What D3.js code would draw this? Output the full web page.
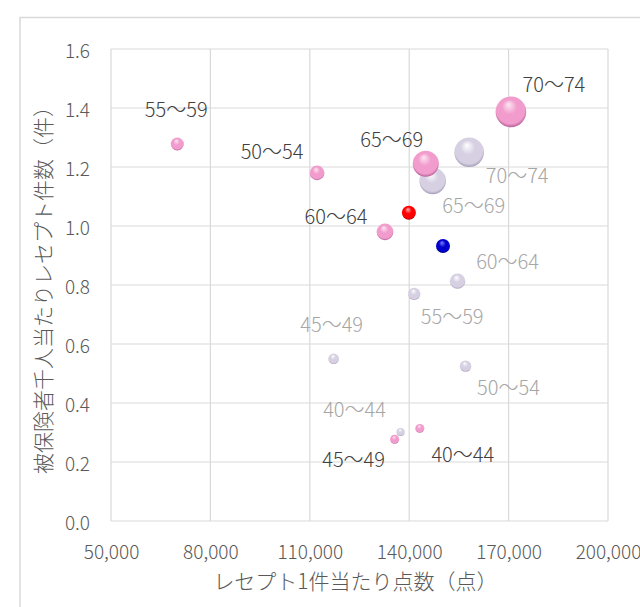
<!DOCTYPE html>
<html><head><meta charset="utf-8">
<script src="https://cdn.jsdelivr.net/npm/d3@7"></script>
<style>
html,body{margin:0;padding:0;background:#fff;}
svg{display:block;}
text{font-family:"Noto Sans CJK JP","Noto Sans",sans-serif;font-weight:300;}
</style></head>
<body>
<script>
// ---- data ----
const ageGroups = ["40～44","45～49","50～54","55～59","60～64","65～69","70～74"];
// pink series
const pinkPoints = [143200,135600,112200,70000,132700,145000,170700];
const pinkCounts = [0.314,0.277,1.180,1.278,0.980,1.211,1.387];
const pinkSizes  = [20,20,53,42,69,169,234];
// lavender series
const lavPoints = [137400,117200,157000,141500,154600,147100,158100];
const lavCounts = [0.302,0.550,0.525,0.770,0.813,1.153,1.250];
const lavSizes  = [16,28,32,38,59,177,219];
// overall markers
const redPoint = [139900], redCount = [1.045], redSize = [49];
const bluePoint = [150200], blueCount = [0.932], blueSize = [49];

const xTicks = [50000,80000,110000,140000,170000,200000];
const yTicks = [0,0.2,0.4,0.6,0.8,1.0,1.2,1.4,1.6];
const xTitle = "レセプト1件当たり点数（点）";
const yTitle = "被保険者千人当たりレセプト件数（件）";

// ---- layout (not data) ----
const W = 640, H = 607;
const plot = {left:111, right:608, top:49, bottom:521};
const pinkLabelOff = [[43,25],[-41,19],[-45,-22],[-1,-35],[-49,-16],[-34,-25],[43,-28]];
const lavLabelOff  = [[-46,-23],[-2,-35],[43,20],[38,22],[50,-21],[41,24],[48,22]];

const svg = d3.select("body").append("svg").attr("width",W).attr("height",H);

// chart border
svg.append("rect").attr("x",20).attr("y",17.5).attr("width",700).attr("height",700)
  .attr("fill","#fff").attr("stroke","#d9d9d9").attr("stroke-width",1.5);

const x = d3.scaleLinear().domain([50000,200000]).range([plot.left,plot.right]);
const y = d3.scaleLinear().domain([0,1.6]).range([plot.bottom,plot.top]);
const r = d3.scaleSqrt().domain([0,234]).range([0,15.3]);

// gradients
const defs = svg.append("defs");
function grad(id, hi, base, dark){
  const g = defs.append("radialGradient").attr("id",id)
    .attr("cx","50%").attr("cy","45%").attr("r","55%")
    .attr("fx","42%").attr("fy","25%");
  g.append("stop").attr("offset","0%").attr("stop-color",hi);
  g.append("stop").attr("offset","45%").attr("stop-color",base);
  g.append("stop").attr("offset","85%").attr("stop-color",base);
  g.append("stop").attr("offset","100%").attr("stop-color",dark);
}
grad("gPink","#fde6f3","#f19ccc","#b8609a");
grad("gLav","#ffffff","#d6d0e2","#a69cb9");
grad("gRed","#ffb0b0","#ff0000","#a00000");
grad("gBlue","#8080ff","#0000cc","#000070");

// gridlines
const grid = svg.append("g");
grid.selectAll("line.v").data(xTicks).join("line")
  .attr("x1",d=>x(d)).attr("x2",d=>x(d)).attr("y1",plot.top).attr("y2",plot.bottom)
  .attr("stroke","#d9d9d9").attr("stroke-width",1.2);
grid.selectAll("line.h").data(yTicks).join("line")
  .attr("x1",plot.left).attr("x2",plot.right).attr("y1",d=>y(d)).attr("y2",d=>y(d))
  .attr("stroke","#d9d9d9").attr("stroke-width",1.2);

// axes (tick labels only)
const xAxis = svg.append("g").attr("transform",`translate(0,${plot.bottom})`)
  .call(d3.axisBottom(x).tickValues(xTicks).tickFormat(d3.format(",")).tickSize(0).tickPadding(20));
const yAxis = svg.append("g").attr("transform",`translate(${plot.left},0)`)
  .call(d3.axisLeft(y).tickValues(yTicks).tickFormat(d3.format(".1f")).tickSize(0).tickPadding(21));
[xAxis,yAxis].forEach(a=>{
  a.select(".domain").remove();
  a.selectAll("text").attr("fill","#595959").style("font-size","19px")
   .style("font-family",'"Noto Sans CJK JP","Noto Sans",sans-serif').style("font-weight","300");
});
xAxis.selectAll("text").attr("dy",null).attr("dominant-baseline","central").attr("y",29);
yAxis.selectAll("text").attr("dy",null).attr("dominant-baseline","central");

// titles
svg.append("text").attr("x",(plot.left+plot.right)/2 - 4).attr("y",580)
  .attr("text-anchor","middle").attr("dominant-baseline","central")
  .attr("fill","#595959").style("font-size","21px").text(xTitle);
svg.append("text").attr("transform",`translate(42,${(plot.top+plot.bottom)/2}) rotate(-90)`)
  .attr("text-anchor","middle").attr("dominant-baseline","central")
  .attr("fill","#595959").style("font-size","21px").text(yTitle);

// bubbles
function series(points, counts, sizes, fill, cls){
  const data = points.map((p,i)=>({x:p,y:counts[i],s:sizes[i],i}));
  svg.append("g").selectAll("circle").data(data).join("circle")
    .attr("class",cls)
    .attr("cx",d=>x(d.x)).attr("cy",d=>y(d.y)).attr("r",d=>r(d.s))
    .attr("fill",`url(#${fill})`);
  return data;
}
const lavData = series(lavPoints, lavCounts, lavSizes, "gLav", "lav");
const pinkData = series(pinkPoints, pinkCounts, pinkSizes, "gPink", "pink");
series(redPoint, redCount, redSize, "gRed", "red");
series(bluePoint, blueCount, blueSize, "gBlue", "blue");

// labels
function labels(data, offs, color){
  svg.append("g").selectAll("text").data(data).join("text")
    .attr("x",d=>x(d.x)+offs[d.i][0]).attr("y",d=>y(d.y)+offs[d.i][1])
    .attr("text-anchor","middle").attr("dominant-baseline","central")
    .attr("fill",color).style("font-size","20px")
    .text(d=>ageGroups[d.i]);
}
labels(lavData, lavLabelOff, "#a6a6a6");
labels(pinkData, pinkLabelOff, "#404040");
</script>
</body></html>
